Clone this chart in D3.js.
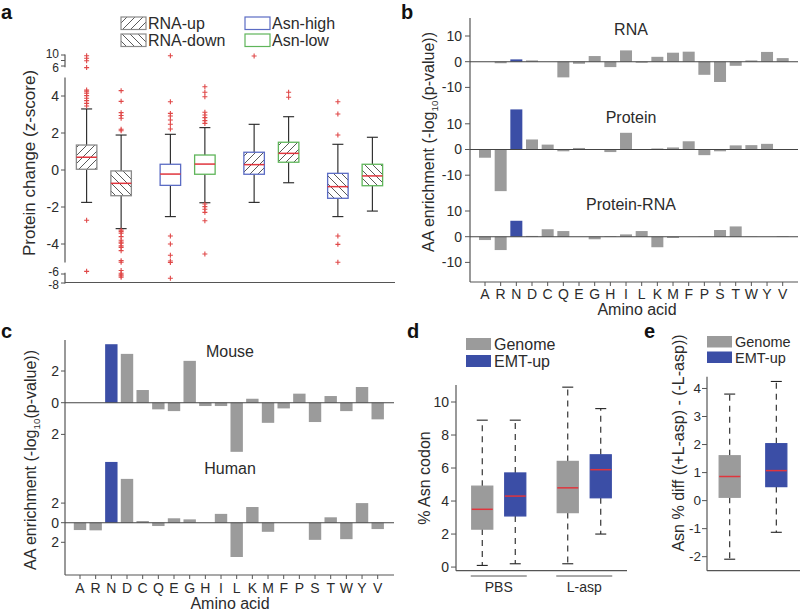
<!DOCTYPE html>
<html><head><meta charset="utf-8">
<script src="https://cdn.jsdelivr.net/npm/d3@7"></script>
<style>body{margin:0;background:#fff} svg{font-family:"Liberation Sans",Arial,Helvetica,sans-serif}</style>
</head><body><svg id="fig" width="800" height="611"></svg>
<script>
// ---------------- data ----------------
const aminoAcids = ["A","R","N","D","C","Q","E","G","H","I","L","K","M","F","P","S","T","W","Y","V"];
const bRNA        = [0, -0.6, 0.9, 0.5, 0, -6.1, -0.8, 2.2, -2.1, 4.4, -0.4, 1.9, 3.5, 3.9, -5.1, -7.9, -1.6, 0.5, 3.8, 1.4];
const bProtein    = [-3.2, -16.2, 15.6, 3.9, 1.9, -0.7, 0.6, 0, -1.0, 6.5, 0, 0.4, 0.8, 3.2, -2.2, -0.7, 1.6, 1.7, 2.2, 0];
const bProteinRNA = [-1.3, -5.2, 6.2, 0.3, 2.9, 2.2, 0, -1.0, 0.2, 0.9, 2.2, -4.1, -0.5, 0, 0.1, 2.6, 4.0, 0.1, 0, 0.2];
const bTitles = ["RNA", "Protein", "Protein-RNA"];
const cMouse = [0, 0, 3.69, 3.08, 0.80, -0.42, -0.53, 2.64, -0.21, -0.21, -3.1, 0.25, -1.27, -0.36, 0.57, -1.22, 0.42, -0.53, 0.99, -1.05];
const cHuman = [-0.75, -0.78, 6.2, 4.47, 0.17, -0.34, 0.45, 0.34, 0, 0.9, -3.5, 1.6, -0.93, 0, 0, -1.75, 0.55, -1.68, 2.0, -0.65];
const cTitles = ["Mouse", "Human"];
const highlightAA = "N";

// panel a : 4 groups x 2 boxes ; stats = [lowWhisker, q1, median, q3, highWhisker]
const aGroups = ["RNA", "Asn", "Asn|RNA-up", "Asn|RNA-down"];
const aLegend = ["RNA-up", "RNA-down", "Asn-high", "Asn-low"];
const aStats = [
  [-1.75, 0.04, 0.69, 1.35, 3.3],
  [-3.17, -1.39, -0.72, -0.05, 1.89],
  [-2.52, -0.83, -0.22, 0.31, 1.93],
  [-1.77, -0.23, 0.32, 0.81, 2.29],
  [-1.75, -0.23, 0.29, 0.96, 2.47],
  [-0.69, 0.42, 0.9, 1.5, 2.88],
  [-2.52, -1.53, -0.9, -0.18, 1.39],
  [-2.22, -0.85, -0.32, 0.31, 1.77]
];
const aOutliers = [
  [9.75, 8.8, 7.9, 5.86, 4.32, 4.23, 4.15, 4.02, 3.88, 3.75, 3.6, 3.46, -2.72, -5.77],
  [4.29, 3.71, 3.1, 2.95, 2.8, 2.2, 2.12, -3.25, -3.33, -3.42, -3.6, -3.8, -3.89, -3.95, -4.1, -4.18, -4.36, -4.9, -4.99, -5.7, -5.93, -6.2, -6.44, -6.73],
  [9.75, 3.69, 3.06, 2.92, 2.7, 2.47, 2.22, -3.57, -4.0, -4.61, -4.92, -5.0, -6.96],
  [4.5, 4.2, 3.96, 3.12, 2.97, 2.83, 2.67, 2.52, -1.84, -1.98, -2.12, -2.29, -2.74, -4.54],
  [9.64],
  [4.2, 3.93],
  [3.69, 3.03, 1.89, -3.57, -4.02, -4.99],
  []
];
const aTickValues = [10, 6, 4, 2, 0, -2, -4, -6, -8];

// panel d
const dGroups = ["PBS", "L-asp"];
const dSeries = ["Genome", "EMT-up"];
const dGenome = [[0.1, 2.3, 3.5, 4.9, 8.9], [0.2, 3.3, 4.8, 6.4, 10.9]];
const dEMT    = [[0.2, 3.1, 4.3, 5.7, 8.9], [2.0, 4.2, 5.9, 6.8, 9.6]];
const dTicks = [0, 2, 4, 6, 8, 10];

// panel e
const eSeries = ["Genome", "EMT-up"];
const eStats = [[-2.09, 0.12, 0.86, 1.6, 3.8], [-1.13, 0.5, 1.07, 2.03, 4.25]];
const eTicks = [-2, -1, 0, 1, 2, 3, 4];

// ---------------- styles ----------------
const TXT = "#2b2b2b", AX = "#555", GRAY = "#9b9b9b", BLUE = "#3b4ea6", RED = "#e0353d";
const BLUE_LINE = "#5b6cc4", GREEN_LINE = "#5fb55a";

const svg = d3.select("#fig");
const defs = svg.append("defs");
function hatch(id, dir) {
  const p = defs.append("pattern").attr("id", id).attr("patternUnits", "userSpaceOnUse")
    .attr("width", 8).attr("height", 8);
  p.append("path").attr("stroke", "#5a5a5a").attr("stroke-width", 1).attr("fill", "none")
    .attr("d", dir === "up" ? "M-2,2 l4,-4 M0,8 l8,-8 M6,10 l4,-4" : "M-2,6 l4,4 M0,0 l8,8 M6,-2 l4,4");
}
hatch("hUp", "up"); hatch("hDown", "down");

function panelLetter(t, x, y) {
  svg.append("text").attr("x", x).attr("y", y).text(t)
    .attr("font-size", 20).attr("font-weight", "bold").attr("fill", "#111");
}
function vLabel(x, y, parts, size) {
  const t = svg.append("text").attr("transform", `translate(${x},${y}) rotate(-90)`)
    .attr("text-anchor", "middle").attr("font-size", size).attr("fill", TXT);
  parts.forEach(p => {
    const s = t.append("tspan").text(p.t);
    if (p.sub) s.attr("font-size", size * 0.62).attr("dy", 4);
    if (p.after) s.attr("dy", -4);
  });
  return t;
}
function drawBox(g, cx, w, st, y, o) {
  const [lw, q1, md, q3, uw] = st;
  const cap = 11;
  const wl = g.append("g").attr("stroke", "#222").attr("stroke-width", 1.1);
  const dash = o.dashed ? "6,5" : null;
  wl.append("line").attr("x1", cx).attr("x2", cx).attr("y1", y(q3)).attr("y2", y(uw)).attr("stroke-dasharray", dash);
  wl.append("line").attr("x1", cx).attr("x2", cx).attr("y1", y(q1)).attr("y2", y(lw)).attr("stroke-dasharray", dash);
  wl.append("line").attr("x1", cx - cap / 2).attr("x2", cx + cap / 2).attr("y1", y(uw)).attr("y2", y(uw));
  wl.append("line").attr("x1", cx - cap / 2).attr("x2", cx + cap / 2).attr("y1", y(lw)).attr("y2", y(lw));
  g.append("rect").attr("x", cx - w / 2).attr("width", w).attr("y", y(q3)).attr("height", y(q1) - y(q3))
    .attr("fill", o.fill || "#fff").attr("stroke", o.stroke).attr("stroke-width", 1.3);
  g.append("line").attr("x1", cx - w / 2).attr("x2", cx + w / 2).attr("y1", y(md)).attr("y2", y(md))
    .attr("stroke", RED).attr("stroke-width", 1.5);
}

// ================= panel a =================
panelLetter("a", 1, 19);
const yA = d3.scaleLinear().domain([-8, -6, -5, 5, 6, 10]).range([283, 274, 262.5, 77.5, 66, 55]);
const xA = d3.scaleBand().domain(aGroups).range([62, 397]);
const subA = d3.scalePoint().domain([0, 1]).range([-17.25, 17.25]);
const gA = svg.append("g");
[[-8.1, -5.9], [-5, 5], [5.9, 10.15]].forEach(([a, b]) => {
  gA.append("line").attr("x1", 65).attr("x2", 65).attr("y1", yA(a)).attr("y2", yA(b)).attr("stroke", AX).attr("stroke-width", 1.2);
});
[...aTickValues, 8].forEach(v => {
  gA.append("line").attr("x1", 61).attr("x2", 65).attr("y1", yA(v)).attr("y2", yA(v)).attr("stroke", AX);
});
const aNudge = {10: -1, 6: 1.5, "-6": -2, "-8": 1.5};
aTickValues.forEach(v => {
  gA.append("text").attr("x", 59).attr("y", yA(v) + (aNudge[v] || 0)).attr("dy", "0.35em").attr("text-anchor", "end")
    .attr("font-size", Math.abs(v) >= 6 ? 12 : 14).attr("fill", TXT).text(v);
});
gA.append("line").attr("x1", 65).attr("x2", 395).attr("y1", 282.5).attr("y2", 282.5).attr("stroke", AX).attr("stroke-width", 1.2);
vLabel(35, 163, [{t: "Protein change (z-score)"}], 17);

const aStyle = [
  {stroke: "#8a8a8a", fill: "url(#hUp)"}, {stroke: "#8a8a8a", fill: "url(#hDown)"},
  {stroke: BLUE_LINE}, {stroke: GREEN_LINE},
  {stroke: BLUE_LINE, fill: "url(#hUp)"}, {stroke: GREEN_LINE, fill: "url(#hUp)"},
  {stroke: BLUE_LINE, fill: "url(#hDown)"}, {stroke: GREEN_LINE, fill: "url(#hDown)"}
];
aStats.forEach((st, i) => {
  const cx = xA(aGroups[Math.floor(i / 2)]) + xA.bandwidth() / 2 + subA(i % 2);
  drawBox(gA, cx, 20.5, st, yA, aStyle[i]);
  aOutliers[i].forEach(v => {
    const y = yA(v);
    gA.append("path").attr("d", `M${cx - 2.5},${y}h5M${cx},${y - 2.5}v5`).attr("stroke", "#e04848").attr("stroke-width", 1.1);
  });
});
const legA = [
  {x: 121, y: 17, style: {stroke: "#8a8a8a", fill: "url(#hUp)"}, t: aLegend[0]},
  {x: 121, y: 34, style: {stroke: "#8a8a8a", fill: "url(#hDown)"}, t: aLegend[1]},
  {x: 245, y: 17, style: {stroke: BLUE_LINE, fill: "#fff"}, t: aLegend[2]},
  {x: 245, y: 34, style: {stroke: GREEN_LINE, fill: "#fff"}, t: aLegend[3]}
];
legA.forEach(l => {
  gA.append("rect").attr("x", l.x).attr("y", l.y).attr("width", 25).attr("height", 12.5)
    .attr("fill", l.style.fill).attr("stroke", l.style.stroke).attr("stroke-width", 1.2);
  gA.append("text").attr("x", l.x + 27).attr("y", l.y + 12).attr("font-size", 16).attr("fill", TXT).text(l.t);
});

// ================= panel b =================
panelLetter("b", 401, 19);
const xB = d3.scalePoint().domain(aminoAcids).range([485, 782.7]);
const gB = svg.append("g");
const bData = [bRNA, bProtein, bProteinRNA];
const bZero = [61.7, 149.5, 236.7];
gB.append("line").attr("x1", 470).attr("x2", 470).attr("y1", 18).attr("y2", 282).attr("stroke", AX).attr("stroke-width", 1.2);
gB.append("line").attr("x1", 470).attr("x2", 798).attr("y1", 282).attr("y2", 282).attr("stroke", AX).attr("stroke-width", 1.2);
bData.forEach((vals, k) => {
  const y = d3.scaleLinear().domain([-10, 10]).range([bZero[k] + 25.7, bZero[k] - 25.7]);
  vals.forEach((v, i) => {
    const aa = aminoAcids[i];
    gB.append("rect").attr("x", xB(aa) - 6).attr("width", 12)
      .attr("y", Math.min(y(v), y(0))).attr("height", Math.abs(y(v) - y(0)))
      .attr("fill", aa === highlightAA ? BLUE : GRAY);
  });
  gB.append("line").attr("x1", 470).attr("x2", 798).attr("y1", y(0)).attr("y2", y(0)).attr("stroke", "#444").attr("stroke-width", 1.1);
  [10, 0, -10].forEach(t => {
    gB.append("line").attr("x1", 465).attr("x2", 470).attr("y1", y(t)).attr("y2", y(t)).attr("stroke", AX);
    gB.append("text").attr("x", 462).attr("y", y(t)).attr("dy", "0.35em").attr("text-anchor", "end")
      .attr("font-size", 14).attr("fill", TXT).text(t);
  });
  gB.append("text").attr("x", 631).attr("y", [35, 123, 210][k]).attr("text-anchor", "middle")
    .attr("font-size", 16).attr("fill", TXT).text(bTitles[k]);
});
aminoAcids.forEach(aa => {
  gB.append("line").attr("x1", xB(aa)).attr("x2", xB(aa)).attr("y1", 282).attr("y2", 286).attr("stroke", AX);
  gB.append("text").attr("x", xB(aa)).attr("y", 299).attr("text-anchor", "middle").attr("font-size", 14).attr("fill", TXT).text(aa);
});
gB.append("text").attr("x", 637).attr("y", 315).attr("text-anchor", "middle").attr("font-size", 16).attr("fill", TXT).text("Amino acid");
vLabel(434, 142, [{t: "AA enrichment (-log"}, {t: "10", sub: true}, {t: "(p-value))", after: true}], 16);

// ================= panel c =================
panelLetter("c", 1, 338);
const xC = d3.scalePoint().domain(aminoAcids).range([80, 377.7]);
const gC = svg.append("g");
gC.append("line").attr("x1", 65).attr("x2", 65).attr("y1", 340).attr("y2", 575).attr("stroke", AX).attr("stroke-width", 1.2);
gC.append("line").attr("x1", 65).attr("x2", 394).attr("y1", 575).attr("y2", 575).attr("stroke", AX).attr("stroke-width", 1.2);
const cData = [cMouse, cHuman];
const cScales = [
  d3.scaleLinear().domain([-2, 2]).range([402.7 + 31.7, 402.7 - 31.7]),
  d3.scaleLinear().domain([-2, 2]).range([522.7 + 19.6, 522.7 - 19.6])
];
cData.forEach((vals, k) => {
  const y = cScales[k];
  vals.forEach((v, i) => {
    const aa = aminoAcids[i];
    gC.append("rect").attr("x", xC(aa) - 6.2).attr("width", 12.4)
      .attr("y", Math.min(y(v), y(0))).attr("height", Math.abs(y(v) - y(0)))
      .attr("fill", aa === highlightAA ? BLUE : GRAY);
  });
  gC.append("line").attr("x1", 65).attr("x2", 394).attr("y1", y(0)).attr("y2", y(0)).attr("stroke", "#444").attr("stroke-width", 1.1);
  [2, 0, -2].forEach(t => {
    gC.append("line").attr("x1", 61).attr("x2", 65).attr("y1", y(t)).attr("y2", y(t)).attr("stroke", AX);
    gC.append("text").attr("x", 59).attr("y", y(t)).attr("dy", "0.35em").attr("text-anchor", "end")
      .attr("font-size", 14).attr("fill", TXT).text(Math.abs(t));
  });
  gC.append("text").attr("x", 230).attr("y", [357, 474][k]).attr("text-anchor", "middle")
    .attr("font-size", 16).attr("fill", TXT).text(cTitles[k]);
});
aminoAcids.forEach(aa => {
  gC.append("line").attr("x1", xC(aa)).attr("x2", xC(aa)).attr("y1", 575).attr("y2", 579).attr("stroke", AX);
  gC.append("text").attr("x", xC(aa)).attr("y", 593).attr("text-anchor", "middle").attr("font-size", 14).attr("fill", TXT).text(aa);
});
gC.append("text").attr("x", 230).attr("y", 609).attr("text-anchor", "middle").attr("font-size", 16).attr("fill", TXT).text("Amino acid");
vLabel(36, 460, [{t: "AA enrichment (-log"}, {t: "10", sub: true}, {t: "(p-value))", after: true}], 16);

// ================= panel d =================
panelLetter("d", 407, 338);
const yD = d3.scaleLinear().domain([-0.22, 11.0]).range([570.7, 385.5]);
const xD = d3.scaleBand().domain(dGroups).range([456, 627]);
const gD = svg.append("g");
gD.append("line").attr("x1", 456).attr("x2", 456).attr("y1", 385).attr("y2", 570.7).attr("stroke", AX).attr("stroke-width", 1.2);
gD.append("line").attr("x1", 456).attr("x2", 627).attr("y1", 570.7).attr("y2", 570.7).attr("stroke", AX).attr("stroke-width", 1.2);
dTicks.forEach(t => {
  gD.append("line").attr("x1", 451).attr("x2", 456).attr("y1", yD(t)).attr("y2", yD(t)).attr("stroke", AX);
  gD.append("text").attr("x", 449).attr("y", yD(t)).attr("dy", "0.35em").attr("text-anchor", "end")
    .attr("font-size", 14).attr("fill", TXT).text(t);
});
vLabel(430, 478, [{t: "% Asn codon"}], 16);
dGroups.forEach((gname, gi) => {
  const c = xD(gname) + xD.bandwidth() / 2;
  drawBox(gD, c - 16.5, 21, dGenome[gi], yD, {stroke: GRAY, fill: GRAY, dashed: true});
  drawBox(gD, c + 16.5, 21, dEMT[gi], yD, {stroke: BLUE, fill: BLUE, dashed: true});
  gD.append("line").attr("x1", c - 28).attr("x2", c + 28).attr("y1", 576).attr("y2", 576).attr("stroke", AX);
  gD.append("text").attr("x", c).attr("y", 592).attr("text-anchor", "middle").attr("font-size", 14).attr("fill", TXT).text(gname);
});
dSeries.forEach((s, i) => {
  gD.append("rect").attr("x", 466).attr("y", 338 + i * 17).attr("width", 25).attr("height", 12).attr("fill", i ? BLUE : GRAY);
  gD.append("text").attr("x", 494).attr("y", 350 + i * 17).attr("font-size", 16).attr("fill", TXT).text(s);
});

// ================= panel e =================
panelLetter("e", 644, 338);
const yE = d3.scaleLinear().domain([-2.5, 4.42]).range([570.7, 376.7]);
const xE = d3.scalePoint().domain(eSeries).range([729.7, 776.3]);
const gE = svg.append("g");
gE.append("line").attr("x1", 707).attr("x2", 707).attr("y1", 376.7).attr("y2", 570.7).attr("stroke", AX).attr("stroke-width", 1.2);
gE.append("line").attr("x1", 707).attr("x2", 800).attr("y1", 570.7).attr("y2", 570.7).attr("stroke", AX).attr("stroke-width", 1.2);
eTicks.forEach(t => {
  gE.append("line").attr("x1", 702).attr("x2", 707).attr("y1", yE(t)).attr("y2", yE(t)).attr("stroke", AX);
  gE.append("text").attr("x", 701).attr("y", yE(t)).attr("dy", "0.35em").attr("text-anchor", "end")
    .attr("font-size", 13.5).attr("fill", TXT).text(t);
});
vLabel(684, 443, [{t: "Asn % diff ((+L-asp) - (-L-asp))"}], 16);
eSeries.forEach((s, i) => {
  drawBox(gE, xE(s), 21, eStats[i], yE, {stroke: i ? BLUE : GRAY, fill: i ? BLUE : GRAY, dashed: true});
  gE.append("rect").attr("x", 707).attr("y", 336 + i * 15.5).attr("width", 25).attr("height", 11.5).attr("fill", i ? BLUE : GRAY);
  gE.append("text").attr("x", 735).attr("y", 347 + i * 15.5).attr("font-size", 14.5).attr("fill", TXT).text(s);
});
</script></body></html>
